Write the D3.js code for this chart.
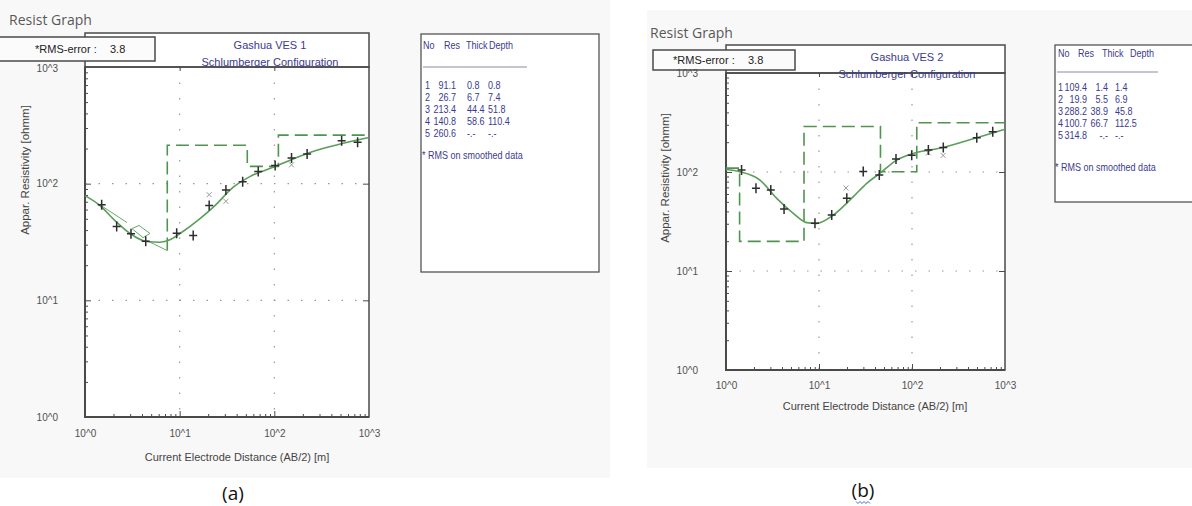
<!DOCTYPE html>
<meta charset="utf-8">
<html>
<script src="https://d3js.org/d3.v7.min.js"></script>
<style>
  body { margin: 0; background: #fff; }
  text { font-family: "Liberation Sans", Arial, sans-serif; }
</style>
<div id="chart"></div>
<script>

// ---- VES 1 data ----
var ves1FieldX   = [1.5, 2.16, 3.06, 4.38, 9.3, 13.9, 20.5, 30.8, 46.3, 67.6, 102, 152, 222, 514, 758];
var ves1FieldRho = [65.8, 42.9, 37.2, 32.1, 37.6, 35.9, 64.9, 88.4, 104, 127, 143, 166, 180, 233, 226];
var ves1SmoothX   = [20.5, 30.8, 152];
var ves1SmoothRho = [80.5, 70.6, 145];
var ves1CurveX   = [1, 1.44, 2.07, 2.99, 4.48, 6.19, 7.9, 10.1, 16.4, 23.6, 36.6, 55.2, 96.7, 238, 1000];
var ves1CurveRho = [78.9, 64.9, 48.3, 37.4, 31.9, 31.5, 33.0, 37.4, 50.2, 64.9, 93, 115, 138, 185, 249];
var ves1ModelX   = [7.4, 7.4, 51.8, 51.8, 110.4, 110.4, 1000];
var ves1ModelRho = [26.7, 213.4, 213.4, 140.8, 140.8, 260.6, 260.6];
// thin equivalence lines near the minimum
var ves1ThinX   = [[1.48, 2.78], [3.13, 3.72, 4.86, 4.10, 3.13], [4.5, 7.4]];
var ves1ThinRho = [[64.9, 46.4], [41.2, 43.8, 37.4, 34.5, 41.2], [32.5, 26.7]];
var ves1No    = ["1", "2", "3", "4", "5"];
var ves1Res   = ["91.1", "26.7", "213.4", "140.8", "260.6"];
var ves1Thick = ["0.8", "6.7", "44.4", "58.6", "-.-"];
var ves1Depth = ["0.8", "7.4", "51.8", "110.4", "-.-"];

// ---- VES 2 data ----
var ves2FieldX   = [1.47, 2.1, 3.03, 4.21, 9.05, 13.7, 19.9, 29.9, 44.5, 67.3, 99.3, 150, 217, 497, 738];
var ves2FieldRho = [105, 68.4, 65.8, 42.3, 30.3, 36.8, 54.2, 101, 93.3, 135, 148, 167, 177, 222, 255];
var ves2SmoothX   = [19.5, 150, 216];
var ves2SmoothRho = [68.9, 156, 147];
var ves2CurveX   = [1, 1.41, 2.32, 3.51, 5.29, 7.38, 9.44, 14.3, 23.4, 32.6, 45.3, 68.4, 103, 217, 497, 1000];
var ves2CurveRho = [106, 100.7, 83, 54.2, 38.3, 30.8, 30.3, 36.8, 56.4, 76.9, 97, 132, 154, 177, 222, 270];
var ves2ModelX   = [1, 1.4, 1.4, 6.9, 6.9, 45.8, 45.8, 112.5, 112.5, 1000];
var ves2ModelRho = [109.4, 109.4, 19.9, 19.9, 288.2, 288.2, 100.7, 100.7, 314.8, 314.8];
var ves2No    = ["1", "2", "3", "4", "5"];
var ves2Res   = ["109.4", "19.9", "288.2", "100.7", "314.8"];
var ves2Thick = ["1.4", "5.5", "38.9", "66.7", "-.-"];
var ves2Depth = ["1.4", "6.9", "45.8", "112.5", "-.-"];

var tickVals = [1, 10, 100, 1000];
var minorVals = [];
[1, 10, 100].forEach(function(d) { for (var k = 2; k <= 9; k++) minorVals.push(d * k); });

var width = 1192, height = 506;
var svg = d3.select("#chart").append("svg")
    .attr("width", width)
    .attr("height", height);

var blue = "#3b3b8e", green = "#5a9e5a", frame = "#4a4a4a";

// light panels behind the two screenshots
svg.append("rect").attr("x", 0).attr("y", 0).attr("width", 610).attr("height", 478).attr("fill", "#f8f8f8");
svg.append("rect").attr("x", 647).attr("y", 10).attr("width", 545).attr("height", 458).attr("fill", "#f8f8f8");

function zip(a, b) { return a.map(function(d, i) { return [d, b[i]]; }); }
function fmt(d) { return "10^" + Math.round(Math.log10(d)); }

function drawPanel(p) {
  var x = d3.scaleLog().domain([1, 1000]).range([p.x0, p.x1]);
  var y = d3.scaleLog().domain([1, 1000]).range([p.y0, p.y1]);
  var g = svg.append("g");

  g.append("text").attr("x", p.titleX).attr("y", p.titleY)
    .style("font-family", "'Open Sans', sans-serif").style("font-size", "14px")
    .attr("fill", "#585858").text("Resist Graph");

  // plot area + header
  g.append("rect").attr("x", p.x0).attr("y", p.y1).attr("width", p.x1 - p.x0).attr("height", p.y0 - p.y1)
    .attr("fill", "#fff");
  g.append("rect").attr("x", p.x0).attr("y", p.hTop).attr("width", p.x1 - p.x0).attr("height", p.y1 - p.hTop)
    .attr("fill", "#fff").attr("stroke", frame).attr("stroke-width", 1.5);

  // dotted grid
  [10, 100].forEach(function(v) {
    g.append("line").attr("x1", x(v)).attr("x2", x(v)).attr("y1", p.y1).attr("y2", p.y0)
      .attr("stroke", "#999").attr("stroke-width", 1.2).attr("stroke-dasharray", "1.5,14");
    g.append("line").attr("x1", p.x0).attr("x2", p.x1).attr("y1", y(v)).attr("y2", y(v))
      .attr("stroke", "#999").attr("stroke-width", 1.2).attr("stroke-dasharray", "1.5,12");
  });

  // ticks
  function ticks(axis, tx, ty, vals, size) {
    var a = g.append("g").attr("transform", "translate(" + tx + "," + ty + ")")
      .call(axis.tickValues(vals).tickSize(size).tickFormat(""));
    a.select(".domain").remove();
    a.selectAll("line").attr("stroke", frame);
  }
  ticks(d3.axisLeft(y), p.x0, 0, minorVals, -3);
  ticks(d3.axisLeft(y), p.x0, 0, [10, 100], -6);
  ticks(d3.axisRight(y), p.x1, 0, [10, 100], -6);
  ticks(d3.axisBottom(x), 0, p.y0, minorVals, -3);
  ticks(d3.axisBottom(x), 0, p.y0, [10, 100], -6);
  ticks(d3.axisTop(x), 0, p.y1, [10, 100], -4);

  // tick labels (10^3 on the y axis is drawn later, above the RMS box)
  var yl = g.append("g").attr("transform", "translate(" + p.x0 + ",0)")
    .call(d3.axisLeft(y).tickValues(tickVals.slice(0, 3)).tickSize(0).tickPadding(p.yPad).tickFormat(fmt));
  var xl = g.append("g").attr("transform", "translate(0," + p.y0 + ")")
    .call(d3.axisBottom(x).tickValues(tickVals).tickSize(0).tickPadding(p.xPad).tickFormat(fmt));
  [yl, xl].forEach(function(a) {
    a.select(".domain").remove();
    a.selectAll("text").attr("fill", "#505050").style("font-size", "10px")
      .style("font-family", "'Liberation Sans', Arial, sans-serif");
  });

  // frame
  g.append("rect").attr("x", p.x0).attr("y", p.y1).attr("width", p.x1 - p.x0).attr("height", p.y0 - p.y1)
    .attr("fill", "none").attr("stroke", frame).attr("stroke-width", 1.5);
  g.append("path").attr("d", "M" + p.x0 + "," + p.y1 + "V" + p.y0 + "H" + p.x1)
    .attr("fill", "none").attr("stroke", frame).attr("stroke-width", 2);

  // axis titles
  g.append("text").attr("x", p.xTitleX).attr("y", p.xTitleY).attr("text-anchor", "middle")
    .attr("fill", "#444").style("font-size", "11px").text("Current Electrode Distance (AB/2) [m]");
  g.append("text").attr("transform", "translate(" + p.yTitleX + "," + p.yTitleY + ") rotate(-90)")
    .attr("text-anchor", "middle").attr("fill", "#444").style("font-size", "11.5px")
    .text("Appar. Resistivity [ohmm]");

  var line = d3.line().x(function(d) { return x(d[0]); }).y(function(d) { return y(d[1]); });

  // layered model (dashed)
  g.append("path").attr("d", line(zip(p.modelX, p.modelRho)))
    .attr("fill", "none").attr("stroke", "#4f944f").attr("stroke-width", 1.6).attr("stroke-dasharray", "13,6");

  // thin lines
  (p.thinX || []).forEach(function(xs, i) {
    g.append("path").attr("d", line(zip(xs, p.thinRho[i])))
      .attr("fill", "none").attr("stroke", "#6aa86a").attr("stroke-width", 1);
  });

  // calculated curve
  g.append("path").attr("d", line.curve(d3.curveMonotoneX)(zip(p.curveX, p.curveRho)))
    .attr("fill", "none").attr("stroke", green).attr("stroke-width", 1.6);

  // smoothed data (x)
  g.selectAll(".sm").data(zip(p.smX, p.smRho)).enter().append("path")
    .attr("transform", function(d) { return "translate(" + x(d[0]) + "," + y(d[1]) + ")"; })
    .attr("d", "M-2.5,-2.5L2.5,2.5M-2.5,2.5L2.5,-2.5")
    .attr("stroke", "#999").attr("stroke-width", 1);

  // field data (+)
  g.selectAll(".fd").data(zip(p.fieldX, p.fieldRho)).enter().append("path")
    .attr("transform", function(d) { return "translate(" + x(d[0]) + "," + y(d[1]) + ")"; })
    .attr("d", "M-4,0H4M0,-5V5")
    .attr("stroke", "#2d2d2d").attr("stroke-width", 1.5);

  // header titles
  g.append("text").attr("x", p.hTextX).attr("y", p.hTop + 16).attr("text-anchor", "middle")
    .attr("fill", blue).style("font-size", "11px").text(p.name);
  g.append("text").attr("x", p.hTextX).attr("y", p.hTop + 33).attr("text-anchor", "middle")
    .attr("fill", blue).style("font-size", "11px").text("Schlumberger Configuration");

  // RMS box
  g.append("rect").attr("x", p.rmsX0).attr("y", p.rmsY0).attr("width", p.rmsX1 - p.rmsX0).attr("height", p.rmsH)
    .attr("fill", "#fbfbfb").attr("stroke", frame).attr("stroke-width", 1.5);
  g.append("text").attr("x", p.rmsTextX).attr("y", p.rmsY0 + p.rmsH / 2 + 4)
    .attr("fill", "#222").style("font-size", "11px").text("*RMS-error :");
  g.append("text").attr("x", p.rmsTextX + 75).attr("y", p.rmsY0 + p.rmsH / 2 + 4)
    .attr("fill", "#222").style("font-size", "11px").text("3.8");

  // y label 10^3, just under the RMS box
  g.append("text").attr("x", p.x0 - p.yPad).attr("y", y(1000) + p.top3Dy).attr("text-anchor", "end")
    .attr("fill", "#505050").style("font-size", "10px").text(fmt(1000));

  // layer table, condensed text
  var t = g.append("g").attr("fill", blue);
  function tText(tx, ty, s, anchor) {
    t.append("text").attr("transform", "translate(" + tx + "," + ty + ") scale(0.82,1)")
      .attr("text-anchor", anchor || "start").style("font-size", "11px").text(s);
  }
  t.append("rect").attr("x", p.tX).attr("y", p.tY).attr("width", p.tW).attr("height", p.tH)
    .attr("fill", "#fff").attr("stroke", "#555").attr("stroke-width", 1.3);
  var c = p.cols;
  ["No", "Res", "Thick", "Depth"].forEach(function(h, i) { tText(c.head[i], p.tY + p.headDy, h); });
  t.append("line").attr("x1", p.tX + 2).attr("x2", p.ulX2).attr("y1", p.tY + p.ulDy).attr("y2", p.tY + p.ulDy)
    .attr("stroke", "#8a8aa8").attr("stroke-width", 1.2);
  p.no.forEach(function(n, i) {
    var yy = p.tY + p.rowDy + i * 12;
    tText(c.no, yy, n);
    tText(c.res, yy, p.res[i], "end");
    tText(c.thick, yy, p.thick[i], c.thickAnchor);
    tText(c.depth, yy, p.depth[i]);
  });
  tText(c.no - 3, p.tY + p.rmsDy, "* RMS on smoothed data");

  g.append("text").attr("x", p.capX).attr("y", p.capY).attr("text-anchor", "middle")
    .style("font-family", "'Open Sans', sans-serif").style("font-size", "19px").attr("fill", "#111").text(p.cap);
}

drawPanel({
  name: "Gashua VES 1", cap: "(a)", capX: 233, capY: 500,
  x0: 85, x1: 369, y0: 417, y1: 67, hTop: 33, hTextX: 270,
  titleX: 9, titleY: 25, top3Dy: 5,
  yPad: 27, xPad: 13, xTitleX: 237, xTitleY: 461, yTitleX: 29, yTitleY: 170,
  rmsX0: -2, rmsX1: 155, rmsY0: 37, rmsH: 24, rmsTextX: 35,
  fieldX: ves1FieldX, fieldRho: ves1FieldRho, smX: ves1SmoothX, smRho: ves1SmoothRho,
  curveX: ves1CurveX, curveRho: ves1CurveRho, modelX: ves1ModelX, modelRho: ves1ModelRho,
  thinX: ves1ThinX, thinRho: ves1ThinRho,
  no: ves1No, res: ves1Res, thick: ves1Thick, depth: ves1Depth,
  tX: 421, tY: 34, tW: 178, tH: 238, headDy: 15, ulDy: 33, ulX2: 527, rowDy: 55, rmsDy: 125,
  cols: { head: [423, 444, 466, 489], no: 425, res: 456, thick: 467, depth: 488 }
});

drawPanel({
  name: "Gashua VES 2", cap: "(b)", capX: 863, capY: 497,
  x0: 726, x1: 1005, y0: 370, y1: 73, hTop: 45, hTextX: 907,
  titleX: 650, titleY: 38, top3Dy: 4,
  yPad: 28, xPad: 12, xTitleX: 875, xTitleY: 410, yTitleX: 669, yTitleY: 178,
  rmsX0: 653, rmsX1: 795, rmsY0: 50, rmsH: 20, rmsTextX: 673,
  fieldX: ves2FieldX, fieldRho: ves2FieldRho, smX: ves2SmoothX, smRho: ves2SmoothRho,
  curveX: ves2CurveX, curveRho: ves2CurveRho, modelX: ves2ModelX, modelRho: ves2ModelRho,
  no: ves2No, res: ves2Res, thick: ves2Thick, depth: ves2Depth,
  tX: 1055, tY: 45, tW: 160, tH: 157, headDy: 12, ulDy: 27, ulX2: 1158, rowDy: 46, rmsDy: 126,
  cols: { head: [1058, 1078, 1102, 1130], no: 1058, res: 1087, thick: 1108, depth: 1115, thickAnchor: "end" }
});

// spell-check squiggle under the "b"
var sq = d3.range(0, 8).map(function(i) { return [856 + i * 2, 502 + (i % 2 ? 1.5 : -0.5)]; });
svg.append("path").attr("d", d3.line()(sq)).attr("fill", "none").attr("stroke", "#4169e1").attr("stroke-width", 1);

</script>
</html>
